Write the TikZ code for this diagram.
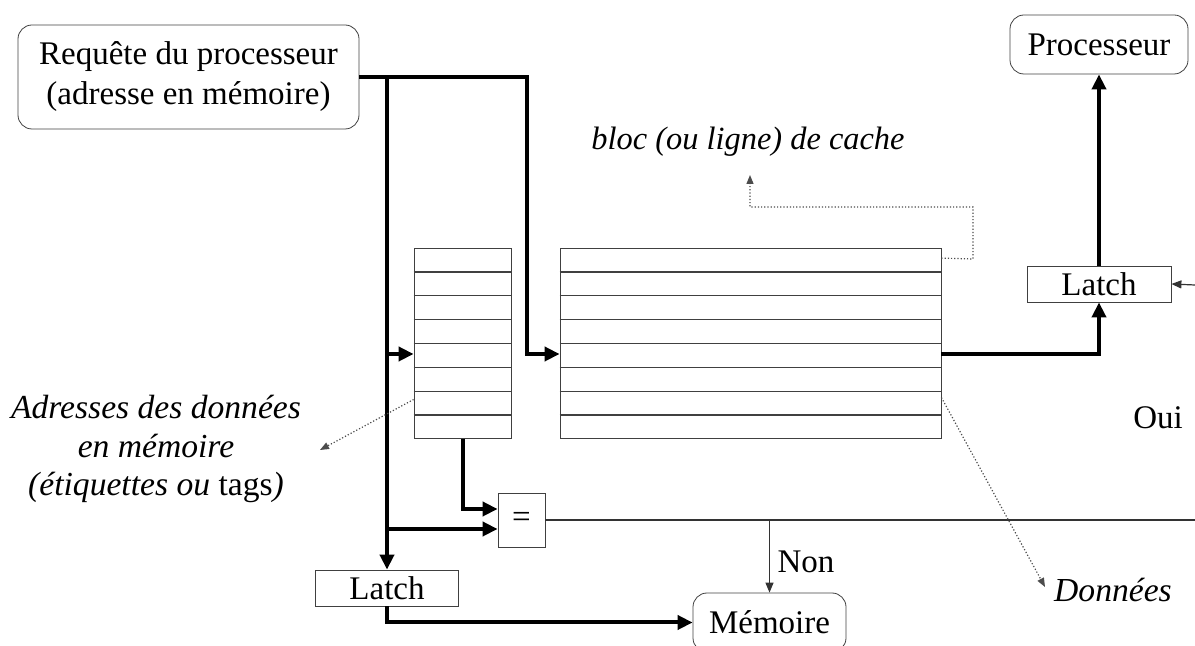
\documentclass[tikz,border=0pt]{standalone}
\usepackage{fontspec}
\setmainfont{Liberation Serif}
\usetikzlibrary{arrows.meta,calc}
\begin{document}
\begin{tikzpicture}[x=0.5pt,y=-0.5pt,
  every node/.style={font=\fontsize{16.5}{20}\selectfont},
  rbox/.style={draw=black!75,rounded corners=7pt,inner sep=0pt,align=center},
  sbox/.style={draw=black!75,inner sep=0pt,align=center},
  arr/.style={draw=black!75,inner sep=0pt},
  bus/.style={line width=2pt,-{Triangle[length=7.5pt,width=7pt]}},
  thinarrow/.style={draw=black!80,line width=0.6pt,-{Triangle[length=5pt,width=4pt]}},
  dotarrow/.style={draw=black!70,line width=0.6pt,densely dotted,-{Triangle[length=4.5pt,width=3.5pt]}},
  lbl/.style={font=\fontsize{16.8}{19.3}\selectfont\itshape,align=center}
]
\useasboundingbox (0,0) rectangle (1195,646);

% nodes
\node[rbox,minimum width=170.5pt,minimum height=52pt] (req) at (188.5,77)
  {Requête du processeur\\(adresse en mémoire)};
\node[rbox,minimum width=89pt,minimum height=29.5pt] (proc) at (1099,44.5) {Processeur};
\node[rbox,minimum width=76.5pt,minimum height=29.5pt] (mem) at (769.5,622.5) {Mémoire};
\node[sbox,minimum width=71.5pt,minimum height=18pt] (latchL) at (387,588) {Latch};
\node[sbox,minimum width=72pt,minimum height=18pt] (latchR) at (1099,284) {Latch};
\node[sbox,minimum width=23.5pt,minimum height=27pt] (eq) at (521.5,520) {=};
\node[arr,minimum width=48.5pt,minimum height=95pt] (tag) at (462.5,343.5) {};
\node[arr,minimum width=190.5pt,minimum height=95pt] (data) at (750.5,343.5) {};
\foreach \i in {1,...,7}{
  \draw[black!75,line width=0.6pt] ($(tag.north west)!\i/8!(tag.south west)$) -- ($(tag.north east)!\i/8!(tag.south east)$);
  \draw[black!75,line width=0.6pt] ($(data.north west)!\i/8!(data.south west)$) -- ($(data.north east)!\i/8!(data.south east)$);
}

% labels
\node[lbl,font=\fontsize{16.2}{19.3}\selectfont\itshape] (bloc) at (748,142) {bloc (ou ligne) de cache};
\node[lbl] (addr) at (156,449) {Adresses des données\\en mémoire\\(étiquettes ou \textup{tags})};
\node[lbl] (don) at (1113,590) {Données};
\node (non) at (806,562) {Non};
\node (oui) at (1158,418) {Oui};

% coordinates
\coordinate (j1) at (387,77);
\coordinate (j2) at (527,77);
\coordinate (j3) at (387,354);
\coordinate (j4) at (387,529);
\coordinate (nonj) at (mem.north |- eq.east);
\coordinate (rend) at (1195,520);
\coordinate (rin) at (1195,285);
\coordinate (bt) at (750,175);
\coordinate (at) at (320,450);
\coordinate (dt) at (1045,587);

% buses
\draw[bus] (req.east |- j1) -- (j2) |- (data.west |- j3);
\draw[bus] (j1) -- (latchL.north);
\draw[bus] (j3) -- (tag.west |- j3);
\draw[bus] (j4) -- (eq.west |- j4);
\draw[bus] (tag.south) |- ($(eq.west)+(0,-11)$);
\draw[bus] (latchL.south) |- (mem.west);
\draw[bus] (data.east |- j3) -| (latchR.south);
\draw[bus] (latchR.north) -- (proc.south);

% thin lines
\draw[black!80,line width=0.6pt] (eq.east) -- (rend);
\draw[thinarrow] (nonj) -- (mem.north);
\draw[thinarrow] (rin) -- (latchR.east);

% dotted pointers
\draw[dotarrow] ($(data.north east)+(0,10)$) -- (973,259) -- (973,207) -- (750,207) -- (bt);
\draw[dotarrow] ($(tag.west)+(0,56)$) -- (at);
\draw[dotarrow] ($(data.east)+(0,54)$) -- (dt);
\end{tikzpicture}
\end{document}
